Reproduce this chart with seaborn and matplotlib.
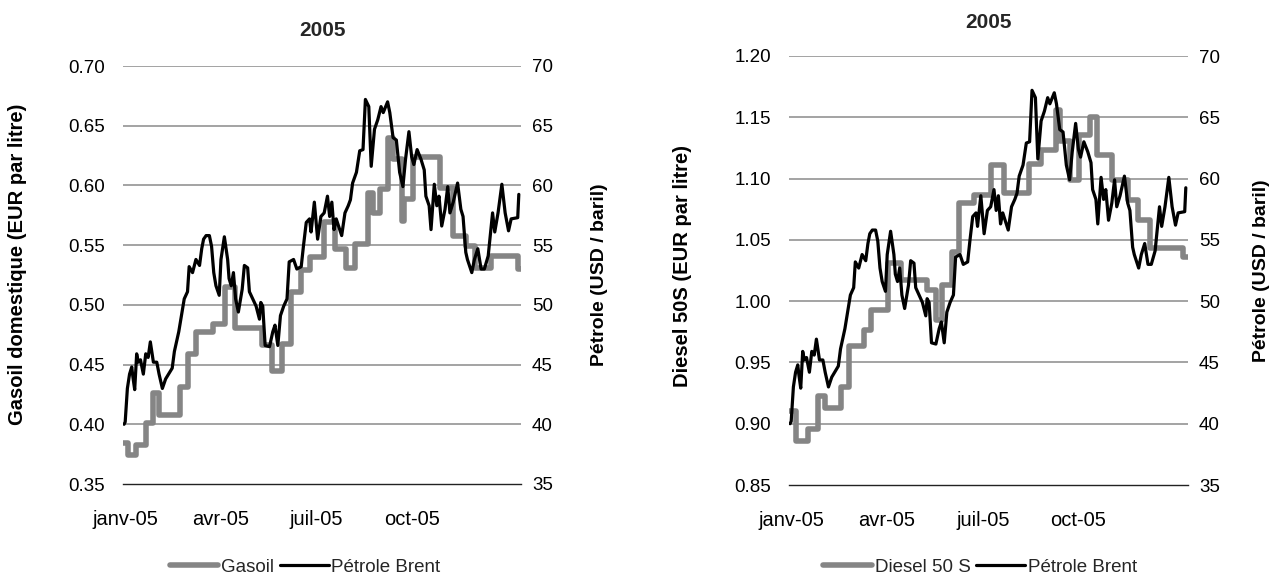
import numpy as np
import pandas as pd
import matplotlib
matplotlib.use("Agg")
import matplotlib.pyplot as plt
import seaborn as sns

# Brent crude (USD / barrel): day offset from 1 Jan 2005, price
brent_day = [1, 2, 4, 6, 8, 9, 10.7, 12.5, 14, 16, 18.6, 20.8, 23, 25, 27.8, 30.9, 33, 36, 39, 42,
             45, 47, 51, 54, 56, 59, 60.5, 63.6, 66.7, 70, 72, 73.7, 76, 79, 81, 83, 85, 88, 89.6,
             92.7, 95.7, 97, 99, 101, 103, 105.5, 107, 109, 111, 114, 115.6, 118.6, 121.7, 124.8,
             126, 127.8, 130, 134, 137, 139, 141.6, 144, 147, 150, 152, 156, 159, 163, 165, 167.6,
             170.6, 172, 175, 178, 181, 184, 187, 189, 191, 193, 195, 200, 203, 206, 208, 210,
             213.5, 216.5, 219.5, 221.7, 224.8, 227, 230, 233, 236, 238, 242, 244, 247, 250, 253,
             256, 258.4, 261.5, 264, 266, 269, 272.5, 275.5, 277, 280, 281.7, 284.7, 287, 289,
             291.5, 294.5, 297, 299, 302, 306, 309, 311, 313.5, 315, 319, 321.4, 324.5, 327.5,
             330.5, 334, 338, 340, 343, 346.5, 349.5, 352.6, 355, 361, 362]
brent_usd = [40.0, 40.2, 43.0, 44.2, 44.8, 44.0, 42.9, 45.9, 45.2, 45.4, 44.2, 45.9, 45.6, 46.9,
             45.2, 45.2, 44.2, 43.0, 43.8, 44.25, 44.7, 46.1, 47.75, 49.4, 50.5, 51.1, 53.2, 52.7,
             53.8, 53.3, 54.7, 55.5, 55.8, 55.8, 54.9, 52.7, 51.6, 50.8, 53.8, 55.7, 53.8, 52.2,
             51.6, 52.7, 50.5, 49.4, 50.2, 51.3, 53.3, 53.1, 51.1, 50.5, 49.9, 48.8, 50.2, 49.9,
             46.6, 46.5, 47.75, 48.3, 46.6, 49.1, 49.9, 50.5, 53.6, 53.8, 53.0, 53.2, 54.9, 56.9,
             57.2, 56.1, 58.6, 55.5, 57.4, 57.7, 59.1, 57.4, 58.6, 56.3, 57.2, 55.8, 57.7, 58.3,
             58.8, 60.2, 61.1, 62.9, 63.0, 67.2, 66.6, 61.6, 64.7, 65.5, 66.6, 66.1, 67.0, 66.1,
             64.0, 63.8, 61.1, 59.9, 62.2, 64.5, 62.4, 61.75, 63.0, 62.2, 61.3, 59.1, 58.3, 56.3,
             60.1, 58.3, 59.1, 56.6, 58.0, 59.9, 57.7, 58.6, 60.2, 58.0, 57.4, 54.4, 53.8, 52.7,
             53.8, 54.7, 53.0, 53.0, 54.1, 57.7, 56.1, 57.7, 60.1, 57.7, 56.2, 57.2, 57.3, 59.25]

# Domestic gas oil (EUR / litre), weekly price changes
gasoil_day = [0, 5, 12, 21, 27, 33, 52, 59, 67, 82, 93, 102, 127, 136, 145, 154, 163, 171, 184,
              194, 204, 212, 224, 229, 235, 242, 247, 255, 257, 265, 290, 302, 314, 322, 337,
              361, 364]
gasoil_eur = [0.384, 0.374, 0.383, 0.401, 0.426, 0.408, 0.431, 0.459, 0.477, 0.484, 0.515, 0.481,
              0.466, 0.445, 0.4675, 0.511, 0.529, 0.540, 0.569, 0.547, 0.531, 0.551, 0.594,
              0.577, 0.597, 0.640, 0.622, 0.570, 0.589, 0.624, 0.598, 0.558, 0.549, 0.531,
              0.541, 0.530, 0.530]

# Diesel 50 S (EUR / litre), weekly price changes
diesel_day = [0, 6, 17, 26, 33, 47, 55, 68, 75, 90, 102, 126, 134, 140, 149, 155, 169, 184, 196,
              219, 230, 244, 247, 256, 265, 275, 281, 295, 309, 318, 329, 359, 364]
diesel_eur = [0.910, 0.886, 0.896, 0.923, 0.9125, 0.930, 0.963, 0.9765, 0.993, 1.031, 1.017,
              1.009, 0.985, 1.013, 1.040, 1.080, 1.0865, 1.111, 1.088, 1.112, 1.123, 1.156,
              1.131, 1.099, 1.1355, 1.150, 1.119, 1.099, 1.0825, 1.066, 1.043, 1.036, 1.036]

# category-style date labels along the time axis
x_tick_dates = ["2005-01-03", "2005-03-31", "2005-06-27", "2005-09-22"]
x_tick_labels = ["janv-05", "avr-05", "juil-05", "oct-05"]
brent_ticks = [35, 40, 45, 50, 55, 60, 65, 70]
gasoil_ticks = [0.35, 0.40, 0.45, 0.50, 0.55, 0.60, 0.65, 0.70]
diesel_ticks = [0.85, 0.90, 0.95, 1.00, 1.05, 1.10, 1.15, 1.20]

start = pd.Timestamp("2005-01-01")


def to_frame(days, values):
    return pd.DataFrame({"date": start + pd.to_timedelta(np.asarray(days, float), unit="D"),
                         "value": values})


brent = to_frame(brent_day, brent_usd)
gasoil = to_frame(gasoil_day, gasoil_eur)
diesel = to_frame(diesel_day, diesel_eur)

sns.set_theme(style="white")
plt.rcParams["font.family"] = ["Liberation Sans", "DejaVu Sans"]

GREY = "#858585"
GRID = "#a3a3a3"
FS = 13.5
XFS = 14.5

fig = plt.figure(figsize=(12.86, 5.85), dpi=100)


def panel(rect, product, prod_label, prod_ticks, left_label, title, legend_x, title_y,
          left_lab_x, left_lab_y, right_lab_x):
    ax = fig.add_axes(rect)
    sns.lineplot(data=product, x="date", y="value", ax=ax, color=GREY, lw=4,
                 drawstyle="steps-post", solid_capstyle="round", label=prod_label, legend=False)
    ax2 = ax.twinx()
    sns.lineplot(data=brent, x="date", y="value", ax=ax2, color="black", lw=2.3,
                 label="Pétrole Brent", legend=False)

    ax.set_ylim(prod_ticks[0], prod_ticks[-1])
    ax.set_yticks(prod_ticks)
    ax.set_yticklabels([f"{t:.2f}" for t in prod_ticks])
    ax2.set_ylim(brent_ticks[0], brent_ticks[-1])
    ax2.set_yticks(brent_ticks)
    ax2.set_yticklabels([str(t) for t in brent_ticks])

    ax.set_xlim(start, start + pd.Timedelta(days=364))
    ax.set_xticks(pd.to_datetime(x_tick_dates))
    ax.set_xticklabels(x_tick_labels)

    ax.grid(False)
    ax2.grid(False)
    for t in prod_ticks[1:]:
        ax.axhline(t, color=GRID, lw=1.4, zorder=0)
    for a in (ax, ax2):
        for s in ("top", "left", "right"):
            a.spines[s].set_visible(False)
    ax.spines["bottom"].set_color("#222222")
    ax.spines["bottom"].set_linewidth(1.0)
    ax2.spines["bottom"].set_visible(False)

    ax.tick_params(axis="y", length=0, pad=13, labelsize=FS, colors="black")
    ax2.tick_params(axis="y", length=0, pad=8, labelsize=FS, colors="black")
    ax.tick_params(axis="x", length=0, pad=19, labelsize=XFS, colors="black")

    ax.set_xlabel("")
    ax.set_ylabel(left_label, fontsize=14.5, fontweight="bold", color="black", va="center")
    ax2.set_ylabel("Pétrole (USD / baril)", fontsize=14, fontweight="bold",
                   color="black", va="center")
    ax.yaxis.set_label_coords(left_lab_x, left_lab_y)
    ax2.yaxis.set_label_coords(right_lab_x, 0.5)

    x0, y0, w, h = rect
    fig.text(x0 + w / 2, title_y, title, ha="center", va="center",
             fontsize=15, fontweight="bold")

    handles = ax.get_lines()[:1] + ax2.get_lines()[:1]
    fig.legend(handles, [prod_label, "Pétrole Brent"], loc="center",
               bbox_to_anchor=(legend_x, 0.03), ncol=2, frameon=False, fontsize=FS,
               handlelength=2.6, handletextpad=0.15, columnspacing=0.3)
    return ax, ax2


panel([123 / 1286, 1 - 484 / 585, 398 / 1286, 418 / 585], gasoil, "Gasoil", gasoil_ticks,
      "Gasoil domestique (EUR par litre)", "2005", 305 / 1286, 1 - 30 / 585,
      -0.264, 0.525, 1.198)
panel([789 / 1286, 1 - 485 / 585, 399 / 1286, 429 / 585], diesel, "Diesel 50 S", diesel_ticks,
      "Diesel 50S (EUR par litre)", "2005", 980 / 1286, 1 - 22 / 585,
      -0.266, 0.51, 1.185)

fig.savefig("out.png", dpi=100, facecolor="white")
